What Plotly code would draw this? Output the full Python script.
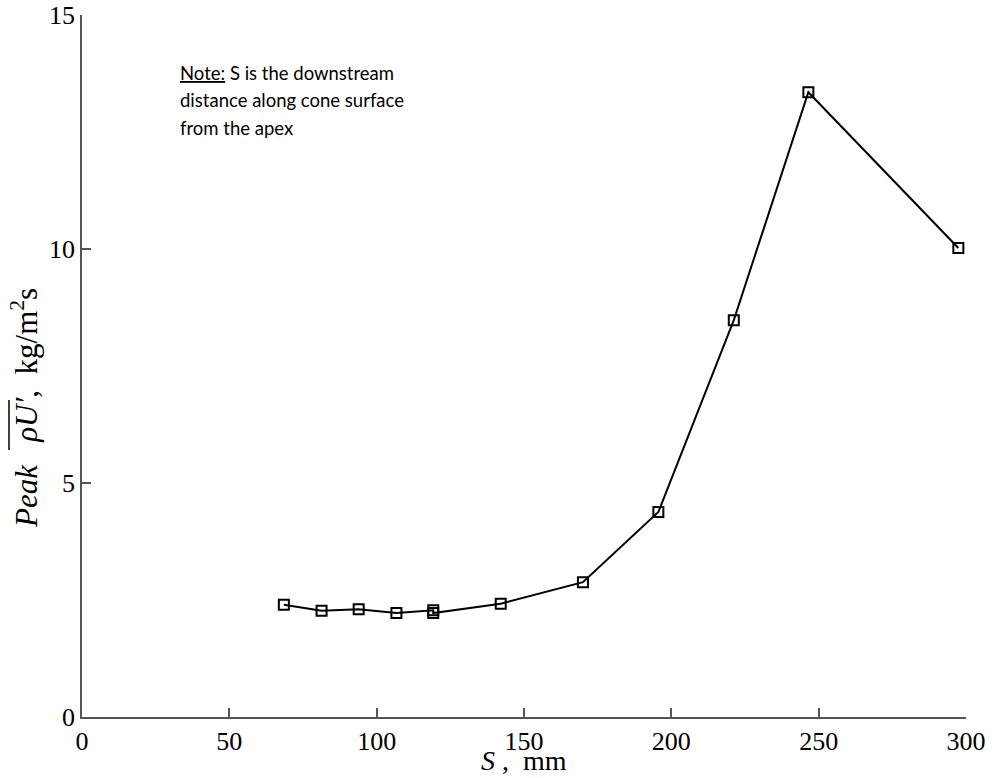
import plotly.graph_objects as go

# Downstream distance along the cone surface (mm) and peak mass-flux fluctuation
s_mm = [68.5, 81.3, 93.9, 106.7, 119.2, 119.2, 142.1, 170.0, 195.6, 221.2, 246.5, 297.4]
peak_rho_u = [2.40, 2.27, 2.30, 2.22, 2.28, 2.22, 2.42, 2.88, 4.38, 8.48, 13.35, 10.02]

x_ticks = [0, 50, 100, 150, 200, 250, 300]
y_ticks = [0, 5, 10, 15]

note_lines = [
    "<u>Note:</u> S is the downstream",
    "distance along cone surface",
    "from the apex",
]

serif = "Liberation Serif"
axis_col = "#555555"

W, H = 993, 778
ml, mr, mt, mb = 82, 27, 15, 61
plot_w = W - ml - mr
plot_h = H - mt - mb


def px_x(p):
    return (p - ml) / plot_w


def px_y(p):
    return (H - mb - p) / plot_h


fig = go.Figure()
fig.add_trace(go.Scatter(
    x=s_mm, y=peak_rho_u,
    mode="lines+markers",
    line=dict(color="black", width=2),
    marker=dict(symbol="square-open", size=10, color="black",
                line=dict(color="black", width=2)),
    showlegend=False,
))

fig.update_layout(
    width=W, height=H,
    margin=dict(l=ml, r=mr, t=mt, b=mb, autoexpand=False),
    paper_bgcolor="white", plot_bgcolor="white",
    font=dict(family=serif, size=25, color="black"),
)
fig.update_xaxes(
    range=[0, 300], tickvals=x_ticks, ticktext=[str(v) for v in x_ticks],
    showgrid=False, zeroline=False, automargin=False,
    showline=True, linecolor=axis_col, linewidth=1.5,
    ticks="inside", ticklen=9, tickwidth=1.5, tickcolor=axis_col,
    tickfont=dict(family=serif, size=26, color="black"),
)
fig.update_yaxes(
    range=[0, 15], tickvals=y_ticks, ticktext=[str(v) for v in y_ticks],
    showgrid=False, zeroline=False, automargin=False,
    showline=True, linecolor=axis_col, linewidth=1.5,
    ticks="inside", ticklen=9, tickwidth=1.5, tickcolor=axis_col,
    tickfont=dict(family=serif, size=26, color="black"),
)

# x-axis title
fig.add_annotation(
    text="<i>S</i> ,  mm", xref="paper", yref="paper",
    x=0.5, y=px_y(760), xanchor="center", yanchor="middle", showarrow=False,
    font=dict(family=serif, size=28, color="black"),
)

# y-axis title with an overbar drawn above rho U'
fig.add_annotation(
    text="<i>Peak</i>   <i>\u03c1U\u2032</i>,  kg/m<sup>2</sup>s",
    xref="paper", yref="paper", textangle=-90,
    x=px_x(24), y=px_y(408), xanchor="center", yanchor="middle", showarrow=False,
    font=dict(family=serif, size=31, color="black"),
)
fig.add_shape(
    type="line", xref="paper", yref="paper",
    x0=px_x(9), x1=px_x(9), y0=px_y(450), y1=px_y(400),
    line=dict(color="black", width=1.5),
)

for line, py in zip(note_lines, [73, 100, 128]):
    fig.add_annotation(
        text=line, xref="paper", yref="paper",
        x=px_x(178), y=px_y(py),
        xanchor="left", yanchor="middle", showarrow=False,
        font=dict(family="Lato", size=18.5, color="black"),
    )

fig.write_html("out.html")
